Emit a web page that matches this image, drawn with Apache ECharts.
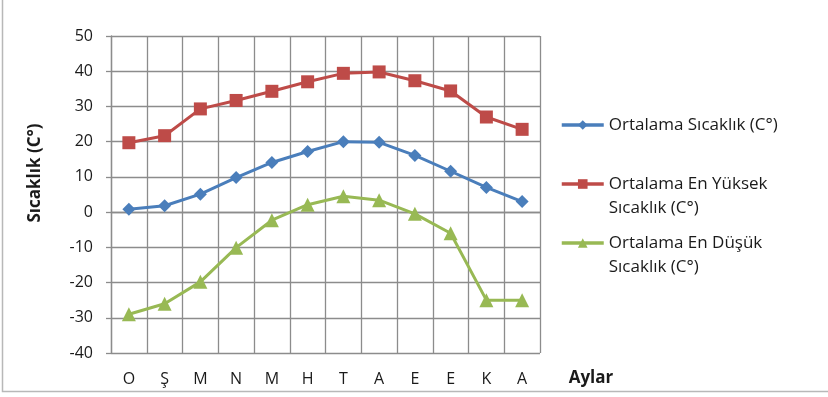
<!DOCTYPE html>
<html><head><meta charset="utf-8">
<script src="https://cdn.jsdelivr.net/npm/echarts@6/dist/echarts.min.js"></script>
<style>html,body{margin:0;padding:0;background:#fff}#c{width:828px;height:397px}</style>
</head><body><div id="c"></div>
<script>
const months = ['O','Ş','M','N','M','H','T','A','E','E','K','A'];
const avgTemp = [0.8, 1.8, 5.1, 9.8, 14.1, 17.2, 20.0, 19.8, 16.1, 11.6, 7.0, 3.0];
const avgHigh = [19.7, 21.7, 29.3, 31.7, 34.3, 37.0, 39.4, 39.8, 37.3, 34.4, 27.0, 23.5];
const avgLow = [-29.0, -26.0, -19.8, -10.1, -2.3, 2.1, 4.5, 3.4, -0.5, -6.0, -25.0, -25.0];
const seriesNames = ['Ortalama Sıcaklık (C°)', 'Ortalama En Yüksek\nSıcaklık (C°)', 'Ortalama En Düşük\nSıcaklık (C°)'];
const yTitle = 'Sıcaklık (C°)';
const xTitle = 'Aylar';
const font = 'Open Sans, Noto Sans, sans-serif';
const chart = echarts.init(document.getElementById('c'));
const gridLine = {lineStyle:{color:'#8c8c8c', width:1.3}};
const legendText = {fontSize:17, color:'#1a1a1a', fontFamily:font, lineHeight:24};
function mkLegend(name, top, multi){
  return {orient:'vertical', left:560, top:top, itemWidth:42, itemHeight:12, padding:0,
    textStyle: legendText, lineStyle:{width:3.5},
    formatter: multi ? (n => '\u00a0\n' + n) : (n => n),
    data:[name]};
}
chart.setOption({
  animation:false,
  textStyle:{fontFamily:font},
  graphic:[
    {type:'polyline', shape:{points:[[2.5,0],[2.5,391.5],[828,391.5]]}, style:{stroke:'#b8b8b8', lineWidth:1.5, fill:null}},
    {type:'text', x:591, y:378, style:{text:xTitle, font:'bold 17px Open Sans, sans-serif', fill:'#1a1a1a', align:'center', verticalAlign:'middle'}},
    {type:'text', x:35, y:173, rotation:Math.PI/2, style:{text:yTitle, font:'bold 17px Open Sans, sans-serif', fill:'#1a1a1a', align:'center', verticalAlign:'middle'}}
  ],
  grid:{left:111, right:288, top:36, bottom:44},
  legend:[mkLegend(seriesNames[0], 113, false), mkLegend(seriesNames[1], 148, true), mkLegend(seriesNames[2], 207, true)],
  xAxis:{
    type:'category', data:months, boundaryGap:true,
    axisLine:gridLine, axisTick:{show:false},
    axisLabel:{fontSize:16, color:'#1a1a1a', margin:18},
    splitLine:{show:true, ...gridLine}
  },
  yAxis:{
    type:'value', min:-40, max:50, interval:10,
    axisLine:{show:true, ...gridLine}, axisTick:{show:true, length:5, ...gridLine},
    axisLabel:{fontSize:16, color:'#1a1a1a', margin:18},
    splitLine:{show:true, ...gridLine}
  },
  series:[
    {name:seriesNames[0], type:'line', data:avgTemp, symbol:'diamond', symbolSize:13,
     lineStyle:{width:3, color:'#4A7EBB'}, itemStyle:{color:'#4A7EBB'}},
    {name:seriesNames[1], type:'line', data:avgHigh, symbol:'rect', symbolSize:13,
     lineStyle:{width:3, color:'#BE4B48'}, itemStyle:{color:'#BE4B48'}},
    {name:seriesNames[2], type:'line', data:avgLow, symbol:'triangle', symbolSize:14,
     lineStyle:{width:3, color:'#98B954'}, itemStyle:{color:'#98B954'}}
  ]
});
</script></body></html>
